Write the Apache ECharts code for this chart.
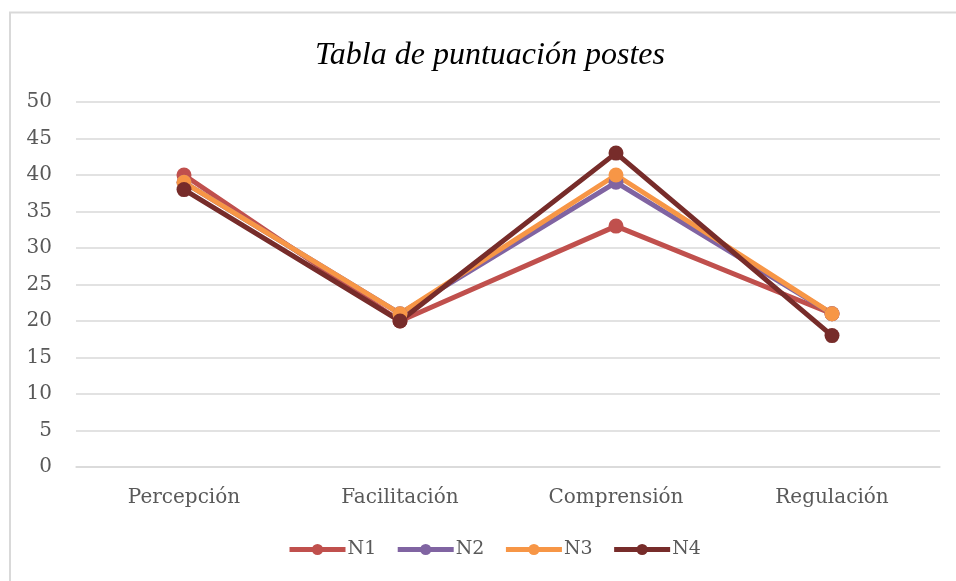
<!DOCTYPE html>
<html><head><meta charset="utf-8">
<script src="https://cdn.jsdelivr.net/npm/echarts@6/dist/echarts.min.js"></script>
<style>html,body{margin:0;padding:0;background:#fff}#c{width:956px;height:581px}</style>
</head><body><div id="c"></div>
<script>
const categories = ['Percepción', 'Facilitación', 'Comprensión', 'Regulación'];
const n1 = [40, 20, 33, 21];
const n2 = [39, 21, 39, 21];
const n3 = [39, 21, 40, 21];
const n4 = [38, 20, 43, 18];
const seriesNames = ['N1', 'N2', 'N3', 'N4'];
const colors = ['#C0504D', '#8064A2', '#F79646', '#772C2A'];
const values = [n1, n2, n3, n4];

const chart = echarts.init(document.getElementById('c'));
const font = '"DejaVu Serif", serif';
const tfont = '"Liberation Serif", serif';
chart.setOption({
  animation: false,
  title: {
    text: 'Tabla de puntuación postes', left: 310, top: 35,
    textStyle: { fontFamily: tfont, fontStyle: 'italic', fontWeight: 'normal', fontSize: 32, color: '#000' }
  },
  graphic: [
    { type: 'polyline', shape: { points: [[10, 590], [10, 12.5], [960, 12.5]] }, style: { stroke: '#d9d9d9', lineWidth: 2, fill: null } }
  ],
  legend: {
    bottom: 17, left: 282, itemWidth: 56, itemHeight: 14, itemGap: 19,
    lineStyle: { width: 5 },
    textStyle: { fontFamily: font, fontSize: 19, color: '#595959', padding: [0, 0, 0, -3] },
    data: seriesNames
  },
  grid: { left: 76, right: 16, top: 102, bottom: 114, containLabel: false },
  xAxis: {
    type: 'category', data: categories, boundaryGap: true,
    axisLine: { lineStyle: { color: '#d9d9d9', width: 1.5 } }, axisTick: { show: false },
    axisLabel: { fontFamily: font, fontSize: 20, color: '#595959', margin: 21 }
  },
  yAxis: {
    type: 'value', min: 0, max: 50, interval: 5,
    axisLine: { show: false }, axisTick: { show: false },
    splitLine: { lineStyle: { color: '#d9d9d9', width: 1.5 } },
    axisLabel: { fontFamily: font, fontSize: 20, color: '#595959', margin: 24 }
  },
  series: values.map((v, i) => ({
    name: seriesNames[i], type: 'line', data: v,
    symbol: 'circle', symbolSize: 15,
    lineStyle: { color: colors[i], width: 5 },
    itemStyle: { color: colors[i] }
  }))
});
</script></body></html>
